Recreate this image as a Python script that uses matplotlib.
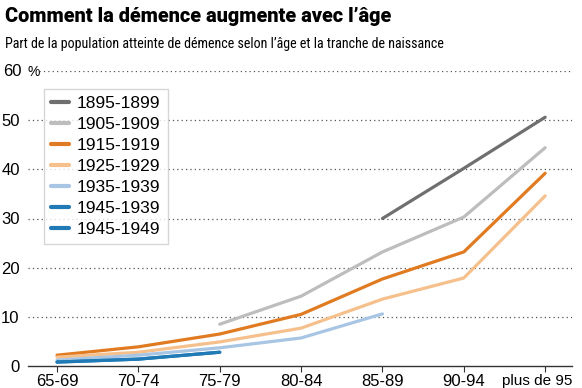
import matplotlib
matplotlib.use('Agg')
import matplotlib.pyplot as plt
import matplotlib.transforms as mtransforms
from matplotlib import font_manager
from matplotlib.font_manager import FontProperties

ages = ['65-69', '70-74', '75-79', '80-84', '85-89', '90-94', 'plus de 95']

# one list per birth cohort, None = no data
c1895 = [None, None, None, None, 30.0, 40.2, 50.6]
c1905 = [None, None, 8.5, 14.2, 23.2, 30.3, 44.4]
c1915 = [2.2, 3.9, 6.5, 10.5, 17.7, 23.2, 39.2]
c1925 = [1.8, 2.8, 4.9, 7.7, 13.6, 17.9, 34.6]
c1935 = [1.2, 2.2, 3.7, 5.7, 10.6, None, None]
c1945a = [0.8, 1.4, 2.8, None, None, None, None]
c1945b = [0.8, 1.4, 2.8, None, None, None, None]

labels = ['1895-1899', '1905-1909', '1915-1919', '1925-1929',
          '1935-1939', '1945-1939', '1945-1949']
series = [c1895, c1905, c1915, c1925, c1935, c1945a, c1945b]
colors = ['#6f6f6f', '#bdbdbd', '#e07b22', '#f5c08c', '#a8c6e4', '#1f7ab6', '#1f7ab6']

plt.rcParams['font.family'] = ['Liberation Sans', 'DejaVu Sans']

# look for a condensed face for the subtitle
sub_font = FontProperties(family='Roboto')
for fam, stretch in [('Roboto Condensed', 'normal'), ('Liberation Sans Narrow', 'normal'),
                     ('DejaVu Sans', 'condensed')]:
    fp = FontProperties(family=fam, stretch=stretch)
    try:
        path = font_manager.findfont(fp, fallback_to_default=False)
    except Exception:
        continue
    if 'ondensed' in path or 'arrow' in path:
        sub_font = fp
        break

W, H = 582, 388
fig = plt.figure(figsize=(W / 100, H / 100), dpi=100)
ax = fig.add_axes([28 / W, (H - 366) / H, 544 / W, 295 / H])

x = list(range(len(ages)))
for lab, vals, col in zip(labels, series, colors):
    xs = [i for i, v in zip(x, vals) if v is not None]
    ys = [v for v in vals if v is not None]
    ax.plot(xs, ys, color=col, lw=2.3, label=lab, solid_capstyle='round')

ax.set_xlim(-0.357, 6.33)
ax.set_ylim(0, 60)
for s in ['left', 'right', 'top']:
    ax.spines[s].set_visible(False)
ax.spines['bottom'].set_color('#333333')
ax.spines['bottom'].set_linewidth(1.0)

ax.set_xticks(x)
ax.set_xticklabels(ages, fontsize=12)
ax.tick_params(axis='x', length=4, color='#333333', pad=2)
last = ax.get_xticklabels()[-1]
last.set_fontsize(11)
last.set_transform(last.get_transform() +
                   mtransforms.ScaledTranslation(-8 / 100, 0, fig.dpi_scale_trans))

ax.set_yticks([0, 10, 20, 30, 40, 50])
ax.set_yticklabels(['0', '10', '20', '30', '40', '50'], fontsize=12)
ax.tick_params(axis='y', length=0, pad=6)

for v in [10, 20, 30, 40, 50]:
    ax.axhline(v, color='#555555', lw=0.9, ls=(0, (1, 2.5)), zorder=0)
ax.axhline(60, xmin=11 / 544, color='#555555', lw=0.9, ls=(0, (1, 2.5)), zorder=0)
fig.text(3 / W, 1 - 71 / H, '60', fontsize=12, va='center', ha='left')
fig.text(27 / W, 1 - 72 / H, '%', fontsize=10, va='center', ha='left')

leg = ax.legend(loc='upper left', bbox_to_anchor=(44 / W, 1 - 89 / H),
                bbox_transform=fig.transFigure, frameon=True,
                prop={'family': 'Liberation Sans', 'size': 12.5},
                fancybox=False, handlelength=1.05, handletextpad=0.45,
                labelspacing=0.34, borderpad=0.4, borderaxespad=0)
leg.get_frame().set_edgecolor('#cccccc')
leg.get_frame().set_linewidth(1.0)
for h in leg.get_lines():
    h.set_linewidth(3)


def fit(txt, width):
    # scale the font so the text spans the width seen in the reference
    r = fig.canvas.get_renderer()
    w = txt.get_window_extent(r).width
    txt.set_fontsize(txt.get_fontsize() * width / w)


t1 = fig.text(5 / W, 1 - 16 / H, 'Comment la démence augmente avec l’âge',
              fontsize=15, fontweight=900, va='center', ha='left',
              family=['Roboto', 'Liberation Sans'])
t2 = fig.text(5 / W, 1 - 44 / H,
              'Part de la population atteinte de démence selon l’âge et la tranche de naissance',
              fontsize=11, va='center', ha='left', fontproperties=sub_font)
fit(t1, 386)
fit(t2, 440)

fig.savefig('out.png', dpi=100)
